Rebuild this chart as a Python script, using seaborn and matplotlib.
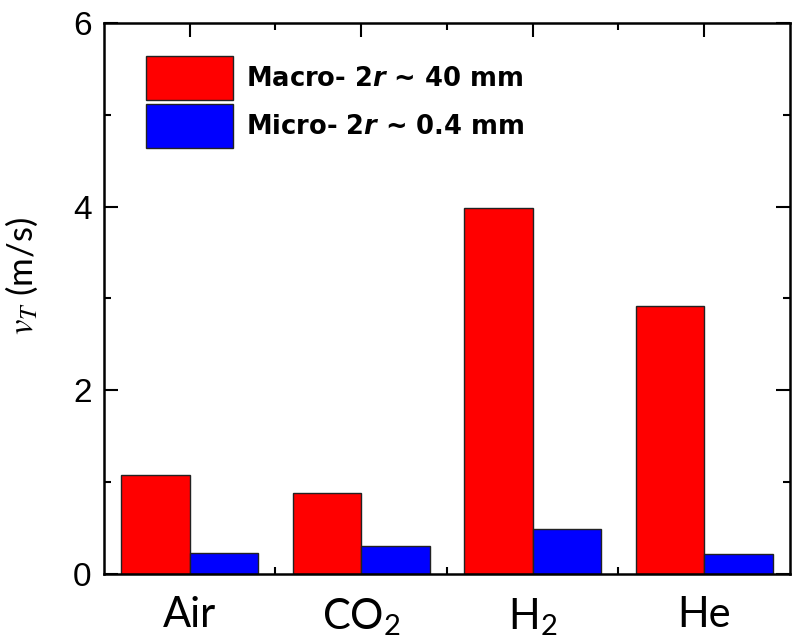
import matplotlib
matplotlib.use("Agg")
import matplotlib.pyplot as plt
from matplotlib.ticker import FixedLocator
from matplotlib.font_manager import FontProperties
import seaborn as sns
import pandas as pd

# Terminal velocities of macro- and micro-scale bubbles in different gases
gases = ["Air", "CO2", "H2", "He"]
gas_labels = ["Air", r"$\mathrm{CO_2}$", r"$\mathrm{H_2}$", "He"]
series = ["Macro", "Micro"]
series_labels = [r"Macro- 2$r$ ~ 40 mm", r"Micro- 2$r$ ~ 0.4 mm"]
macro_v = [1.08, 0.88, 3.98, 2.92]
micro_v = [0.23, 0.30, 0.49, 0.22]
colors = ["#ff0000", "#0000ff"]

df = pd.DataFrame({
    "gas": gases * 2,
    "size": [series[0]] * len(gases) + [series[1]] * len(gases),
    "v": macro_v + micro_v,
})

sns.set_theme(style="ticks")
plt.rcParams["font.family"] = ["Liberation Sans", "DejaVu Sans"]
plt.rcParams["text.color"] = "black"
plt.rcParams["axes.labelcolor"] = "black"
plt.rcParams["xtick.color"] = "black"
plt.rcParams["ytick.color"] = "black"
plt.rcParams["mathtext.fontset"] = "custom"
plt.rcParams["mathtext.rm"] = "Lato"
plt.rcParams["mathtext.it"] = "DejaVu Sans:bold:italic"
plt.rcParams["mathtext.bf"] = "DejaVu Sans:bold"

fig = plt.figure(figsize=(7.95, 6.44), dpi=100)
ax = fig.add_axes([0.1308, 0.1087, 0.8629, 0.8556])
ax.set_axisbelow(True)

sns.barplot(data=df, x="gas", y="v", hue="size", order=gases,
            hue_order=series, palette=colors, saturation=1, width=0.8,
            edgecolor="#222222", linewidth=1.0, ax=ax)

ax.set_xlim(-0.5, 3.5)
ax.set_ylim(0, 6)

ax.xaxis.set_major_locator(FixedLocator(range(len(gases))))
ax.xaxis.set_minor_locator(FixedLocator([0.5, 1.5, 2.5]))
ax.set_xticklabels(gas_labels)
ax.yaxis.set_major_locator(FixedLocator([0, 2, 4, 6]))
ax.yaxis.set_minor_locator(FixedLocator([1, 3, 5]))

ax.tick_params(which="both", direction="in", top=True, right=True,
               bottom=True, left=True, color="black")
ax.tick_params(which="major", length=10, width=1.5)
ax.tick_params(which="minor", length=5, width=1.5)
ax.tick_params(axis="y", which="major", labelsize=24, pad=9)
ax.tick_params(axis="x", which="major", labelsize=30, pad=16)
for lab in ax.get_xticklabels():
    lab.set_fontfamily("Lato")
for lab in ax.get_yticklabels():
    lab.set_fontfamily("Liberation Sans")

for side in ["left", "right", "top", "bottom"]:
    ax.spines[side].set_visible(True)
    ax.spines[side].set_linewidth(1.8)
    ax.spines[side].set_color("black")

ax.set_xlabel("")
ax.set_ylabel(r"$v_T$ (m/s)", fontsize=25, family="Lato",
              math_fontfamily="stix")
ax.yaxis.set_label_coords(-0.093, 0.54)

handles, _ = ax.get_legend_handles_labels()
ax.get_legend().remove()
leg_font = FontProperties(family="DejaVu Sans", weight="bold", size=18.5,
                          math_fontfamily="custom")
ax.legend(handles, series_labels, loc="upper left",
          bbox_to_anchor=(0.061, 0.94), frameon=False, prop=leg_font,
          handlelength=3.4, handleheight=2.26, handletextpad=0.5,
          labelspacing=0.16, borderpad=0, borderaxespad=0)

fig.savefig("out.png", dpi=100)
